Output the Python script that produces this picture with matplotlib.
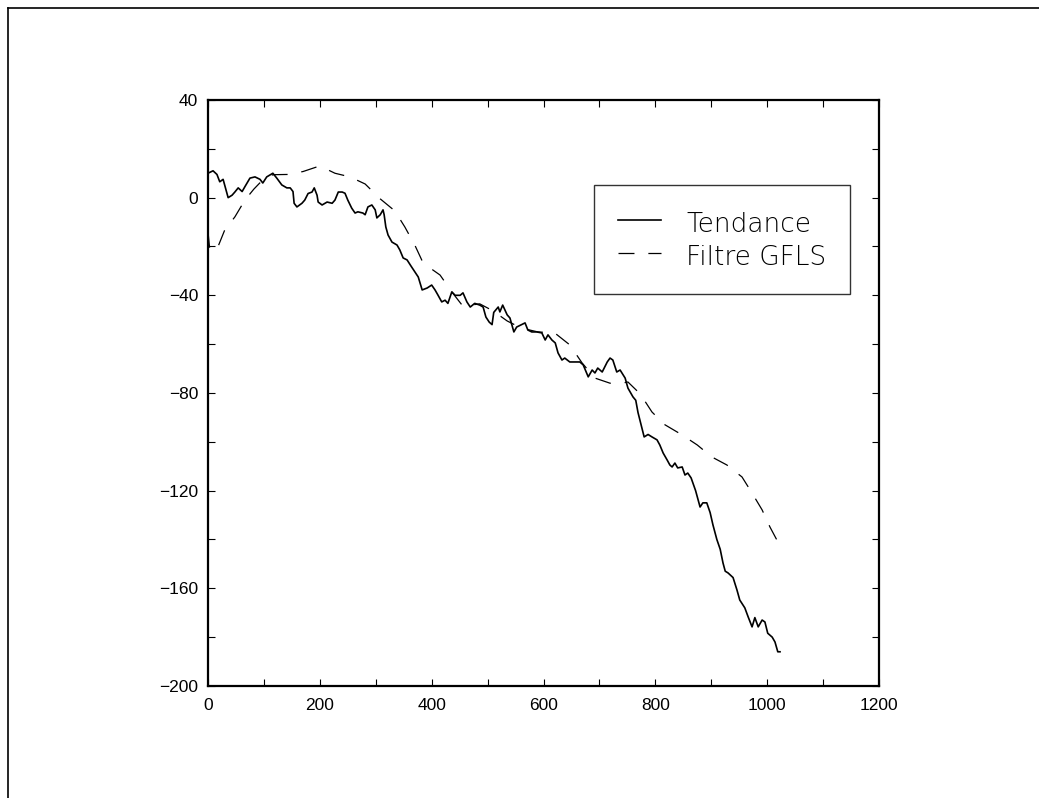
import matplotlib
matplotlib.use("Agg")
from matplotlib import pyplot as plt
from matplotlib.lines import Line2D
from matplotlib.ticker import MultipleLocator

# Trend series (sample index, value)
tend_x = [0, 9, 16, 21, 27, 36, 43, 48, 54, 61, 66, 75, 84, 93, 98, 105, 116, 123, 132, 141,
          147, 152, 154, 159, 168, 173, 179, 186, 190, 195, 197, 204, 213, 222, 227, 233, 240, 245,
          250, 257, 263, 268, 277, 281, 286, 293, 299, 302, 308, 313, 315, 318, 322, 329, 338, 343,
          349, 356, 363, 370, 376, 383, 392, 400, 406, 411, 418, 424, 429, 436, 442, 451, 456, 463,
          469, 477, 486, 492, 497, 503, 508, 511, 519, 522, 527, 535, 540, 547, 552, 561, 567, 572,
          579, 588, 597, 603, 608, 615, 621, 626, 633, 638, 647, 656, 665, 671, 680, 687, 692, 697,
          705, 714, 719, 724, 731, 737, 746, 751, 755, 760, 765, 769, 776, 780, 787, 794, 803, 808,
          814, 821, 826, 830, 835, 840, 848, 853, 858, 864, 872, 880, 885, 892, 898, 903, 910, 916,
          921, 925, 930, 939, 946, 951, 960, 966, 973, 978, 984, 991, 996, 1001, 1009, 1014, 1019, 1023]
tend_y = [10, 11, 9.5, 6.5, 7.5, 0, 1, 2.3, 4, 2.5, 4.5, 8, 8.5, 7.5, 6, 8.5, 10, 8, 5.2, 4,
          4, 2.5, -2.3, -3.8, -2.3, -1, 1.7, 2.3, 4, 1, -1.8, -3, -1.8, -2.3, -1, 2.3, 2.3, 1.8,
          -1, -4.3, -6.3, -5.8, -6.3, -7, -3.8, -3, -5, -8.3, -7, -5, -7, -12, -15.3, -18.2, -19.4, -21.4,
          -24.7, -25.5, -28, -30.4, -32.5, -37.8, -37, -35.8, -37.8, -39.8, -42.7, -42, -43.3, -38.6, -40, -40, -39, -42.7,
          -44.8, -43.3, -44, -44.8, -48.9, -51, -52, -47, -44.8, -46.8, -44, -48, -49.3, -55, -53, -52, -51.3, -54.2,
          -55, -55, -55.4, -58.3, -56.2, -58.3, -59.5, -63.6, -66.5, -65.7, -67.3, -67.3, -67.3, -68.5, -73.4, -70.6, -71.8, -69.8,
          -71.4, -67.3, -65.7, -66.5, -71.4, -70.6, -73.9, -78, -79.6, -81.6, -83, -88, -94.3, -98, -97, -98, -99.2, -101.3,
          -104.6, -107.4, -109.5, -110.3, -108.7, -110.7, -110.3, -113.6, -112.8, -114.8, -120, -126.7, -125, -125, -129, -134, -140, -144,
          -149.6, -153, -153.7, -155.6, -160.7, -164.8, -168, -171.7, -175.8, -172, -175.8, -173, -173.8, -178.4, -180, -182, -186, -186]

# GFLS filter output
gfls_x = [0, 3, 10, 18, 30, 48, 66, 82, 98, 116, 143, 170, 200, 227, 254, 281, 308, 334, 352, 370,
          384, 402, 415, 436, 456, 470, 486, 510, 535, 560, 590, 620, 647, 669, 692, 719, 740, 751,
          773, 794, 817, 848, 875, 901, 928, 955, 973, 991, 1005, 1025]
gfls_y = [-14, -21, -22, -20, -13.2, -7.9, -1, 3.5, 7.3, 9.4, 9.5, 10.7, 13, 10, 8.5, 5.6, -0.5, -5.4, -12, -19.5,
          -26.4, -29.6, -31.7, -38.6, -44.5, -44, -43.5, -46.4, -50.5, -53.4, -55, -55.4, -60.3, -67.7, -73.9, -76, -76, -75.5,
          -80.4, -87.8, -93, -97.2, -101.3, -106.2, -109.5, -114.4, -121, -127.9, -134.9, -143.5]

plt.rcParams["lines.scale_dashes"] = False

fig = plt.figure(figsize=(10.39, 7.98), dpi=100)
ax = fig.add_axes([0.2002, 0.1404, 0.6458, 0.7343])

ax.plot(tend_x, tend_y, color="black", lw=1.2, label="Tendance")
ax.plot(gfls_x, gfls_y, color="black", lw=0.9, dashes=(11.5, 10), label="Filtre GFLS")

ax.set_xlim(0, 1200)
ax.set_ylim(-200, 40)
ax.xaxis.set_major_locator(MultipleLocator(200))
ax.xaxis.set_minor_locator(MultipleLocator(100))
ax.yaxis.set_major_locator(MultipleLocator(40))
ax.yaxis.set_minor_locator(MultipleLocator(20))
ax.tick_params(which="both", direction="in", top=True, right=True, length=5, width=0.8)
ax.tick_params(axis="x", pad=9)
ax.tick_params(axis="y", pad=7)
for lab in ax.get_xticklabels() + ax.get_yticklabels():
    lab.set_fontfamily("Liberation Sans")
    lab.set_fontsize(12.5)
for sp in ax.spines.values():
    sp.set_linewidth(1.6)

leg = ax.legend(loc="upper left", bbox_to_anchor=(0.5753, 0.855), borderaxespad=0,
                frameon=True, fancybox=False, handlelength=1.65, handleheight=1.25,
                handletextpad=0.95, borderpad=0.9, labelspacing=0.2,
                prop={"family": "DejaVu Sans", "size": 19, "weight": "light"})
leg.get_frame().set_edgecolor("black")
leg.get_frame().set_linewidth(1.0)

# outer frame of the page
fig.add_artist(Line2D([8 / 1039, 8 / 1039], [0, 1 - 8 / 798], color="black", lw=1.2,
                      transform=fig.transFigure))
fig.add_artist(Line2D([8 / 1039, 1], [1 - 8 / 798, 1 - 8 / 798], color="black", lw=1.2,
                      transform=fig.transFigure))

fig.savefig("out.png", dpi=100)
